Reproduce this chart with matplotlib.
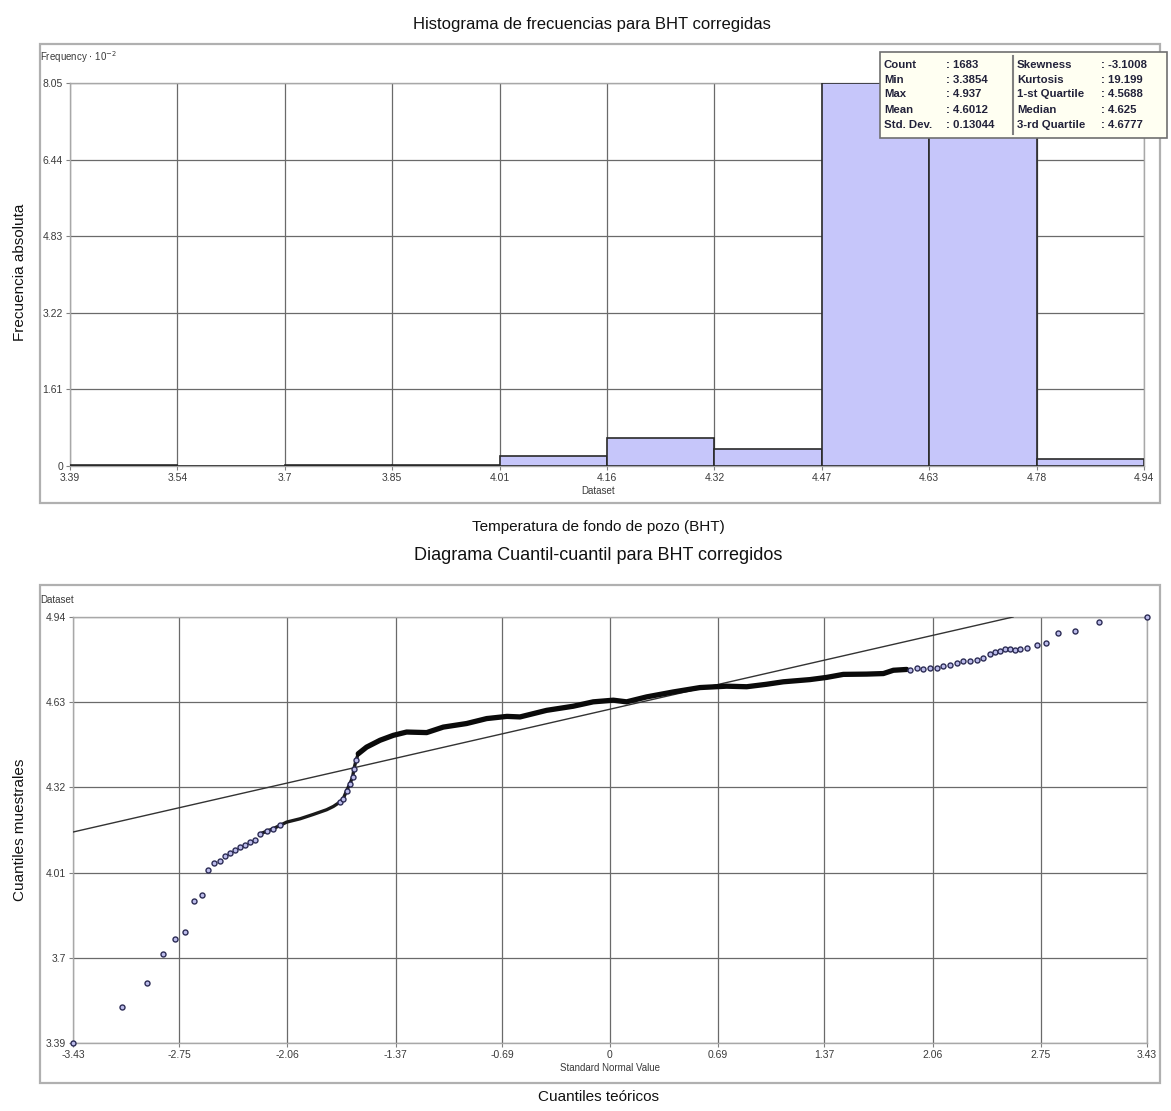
import numpy as np
import matplotlib.pyplot as plt
from matplotlib.patches import Rectangle
from matplotlib.lines import Line2D

plt.rcParams['font.family'] = ['Liberation Sans', 'DejaVu Sans']

# summary statistics shown in the box
stat_left = ['Count', 'Min', 'Max', 'Mean', 'Std. Dev.']
stat_left_val = ['1683', '3.3854', '4.937', '4.6012', '0.13044']
stat_right = ['Skewness', 'Kurtosis', '1-st Quartile', 'Median', '3-rd Quartile']
stat_right_val = ['-3.1008', '19.199', '4.5688', '4.625', '4.6777']
data_min = 3.3854
data_max = 4.937
data_mean = 4.6012
data_std = 0.13044

# histogram counts per bin (10 bins between min and max)
counts = [2, 0, 2, 3, 20, 58, 35, 805, 744, 14]
hist_ticks = ['3.39', '3.54', '3.7', '3.85', '4.01', '4.16', '4.32', '4.47', '4.63', '4.78', '4.94']
freq_ticks = [0, 1.61, 3.22, 4.83, 6.44, 8.05]

# QQ plot, points
tail_lo_x = [-3.430, -3.119, -2.959, -2.853, -2.778, -2.715, -2.657, -2.604, -2.566, -2.527,
             -2.491, -2.459, -2.427, -2.395, -2.363, -2.331, -2.299, -2.268, -2.236, -2.193,
             -2.151, -2.108, -1.725, -1.704, -1.682, -1.661, -1.644, -1.635, -1.622]
tail_lo_y = [3.3854, 3.517, 3.603, 3.709, 3.766, 3.791, 3.904, 3.925, 4.016, 4.041,
             4.047, 4.067, 4.076, 4.089, 4.098, 4.108, 4.117, 4.125, 4.147, 4.156,
             4.166, 4.181, 4.263, 4.275, 4.305, 4.330, 4.354, 4.385, 4.415]
semi_x = [-2.236, -2.151, -2.065, -1.980, -1.895, -1.810, -1.767, -1.725, -1.704, -1.682,
          -1.661, -1.644, -1.635, -1.622, -1.608]
semi_y = [4.147, 4.166, 4.190, 4.202, 4.218, 4.235, 4.247, 4.263, 4.275, 4.305,
          4.330, 4.354, 4.385, 4.415, 4.439]
dense_x = [-1.608, -1.555, -1.469, -1.384, -1.299, -1.171, -1.065, -0.916, -0.788, -0.658,
           -0.575, -0.405, -0.235, -0.107, 0.021, 0.106, 0.234, 0.404, 0.575, 0.745,
           0.873, 1.000, 1.107, 1.277, 1.384, 1.490, 1.639, 1.746, 1.810, 1.895]
dense_y = [4.439, 4.463, 4.488, 4.506, 4.518, 4.516, 4.536, 4.549, 4.567, 4.575,
           4.573, 4.597, 4.612, 4.628, 4.634, 4.628, 4.646, 4.664, 4.680, 4.685,
           4.683, 4.692, 4.701, 4.709, 4.717, 4.728, 4.729, 4.731, 4.743, 4.746]
tail_hi_x = [1.916, 1.959, 2.001, 2.044, 2.086, 2.129, 2.171, 2.214, 2.256, 2.299,
             2.342, 2.384, 2.427, 2.459, 2.491, 2.523, 2.555, 2.587, 2.618, 2.661,
             2.725, 2.785, 2.863, 2.970, 3.125, 3.430]
tail_hi_y = [4.743, 4.750, 4.746, 4.752, 4.753, 4.758, 4.762, 4.768, 4.776, 4.777,
             4.780, 4.786, 4.804, 4.810, 4.814, 4.819, 4.819, 4.817, 4.819, 4.823,
             4.834, 4.843, 4.877, 4.886, 4.920, 4.937]
qq_xticks = [-3.43, -2.75, -2.06, -1.37, -0.69, 0, 0.69, 1.37, 2.06, 2.75, 3.43]
qq_xlabels = ['-3.43', '-2.75', '-2.06', '-1.37', '-0.69', '0', '0.69', '1.37', '2.06', '2.75', '3.43']
qq_ylabels = ['3.39', '3.7', '4.01', '4.32', '4.63', '4.94']

W, H = 1171, 1111
fig = plt.figure(figsize=(W / 100, H / 100), dpi=100)


def fx(px):
    return px / W


def fy(py):
    return 1 - py / H


def style_axes(ax):
    ax.grid(True, color='#6a6a6a', lw=0.9)
    ax.set_axisbelow(True)
    for s in ax.spines.values():
        s.set_color('#a8a8a8')
        s.set_linewidth(1.0)
    ax.tick_params(labelsize=7.5, labelcolor='#3a3a3a', length=3, color='#808080', pad=2)


# outer frames
for top, bot in [(44, 503), (585, 1083)]:
    fig.patches.append(Rectangle((fx(40), fy(bot)), fx(1160) - fx(40), fy(top) - fy(bot),
                                 transform=fig.transFigure, fill=False,
                                 edgecolor='#b0b0b0', lw=1.6))

# ---- histogram ----
ax1 = fig.add_axes([fx(70), fy(466), fx(1144) - fx(70), fy(83) - fy(466)])
edges = np.linspace(data_min, data_max, len(counts) + 1)
ax1.bar(edges[:-1], np.array(counts) / 100, width=np.diff(edges), align='edge',
        color='#c6c6fa', edgecolor='#2a2a2a', lw=1.2, zorder=3)
ax1.set_xlim(data_min, data_max)
ax1.set_ylim(0, 8.05)
ax1.set_xticks(edges)
ax1.set_xticklabels(hist_ticks)
ax1.set_yticks(freq_ticks)
ax1.set_yticklabels(['0', '1.61', '3.22', '4.83', '6.44', '8.05'])
style_axes(ax1)

fig.text(fx(40), fy(57), r'Frequency $\cdot$ 10$^{-2}$', fontsize=7, color='#3a3a3a',
         ha='left', va='center')
fig.text(fx(598), fy(491), 'Dataset', fontsize=7, color='#3a3a3a', ha='center', va='center')

# statistics box
fig.patches.append(Rectangle((fx(880), fy(138)), fx(1167) - fx(880), fy(52) - fy(138),
                             transform=fig.transFigure, facecolor='#fffff2',
                             edgecolor='#707070', lw=1.2, zorder=5))
fig.lines.append(Line2D([fx(1013), fx(1013)], [fy(56), fy(134)], transform=fig.transFigure,
                        color='#808080', lw=1.5, zorder=6))
rows_y = [65, 80, 94, 110, 125]
for i, py in enumerate(rows_y):
    kw = dict(fontsize=8.2, fontweight='bold', color='#22223a', va='center', zorder=7)
    fig.text(fx(884), fy(py), stat_left[i], ha='left', **kw)
    fig.text(fx(946), fy(py), ': ' + stat_left_val[i], ha='left', **kw)
    fig.text(fx(1017), fy(py), stat_right[i], ha='left', **kw)
    fig.text(fx(1101), fy(py), ': ' + stat_right_val[i], ha='left', **kw)

# ---- QQ plot ----
ax2 = fig.add_axes([fx(73), fy(1043), fx(1147) - fx(73), fy(617) - fy(1043)])
ax2.set_xlim(-3.43, 3.43)
ax2.set_ylim(data_min, data_max)
ax2.set_xticks(qq_xticks)
ax2.set_xticklabels(qq_xlabels)
qq_yt = np.linspace(data_min, data_max, 6)
ax2.set_yticks(qq_yt)
ax2.set_yticklabels(qq_ylabels)
style_axes(ax2)

# reference line: mean + std * z
zline = np.array([-3.43, (data_max - data_mean) / data_std])
ax2.plot(zline, data_mean + data_std * zline, color='#333333', lw=1.0, zorder=3)

ax2.plot(semi_x, semi_y, color='#1a1a1a', lw=2.4, zorder=4, solid_capstyle='round')
ax2.plot(dense_x, dense_y, color='#0a0a0a', lw=3.8, zorder=4, solid_capstyle='round')
mk = dict(ls='none', marker='o', ms=3.6, mfc='#bcbcec', mec='#2c2c55', mew=1.0,
          zorder=5, clip_on=False)
ax2.plot(tail_lo_x, tail_lo_y, **mk)
ax2.plot(tail_hi_x, tail_hi_y, **mk)

fig.text(fx(40), fy(600), 'Dataset', fontsize=7, color='#3a3a3a', ha='left', va='center')
fig.text(fx(610), fy(1068), 'Standard Normal Value', fontsize=7, color='#3a3a3a',
         ha='center', va='center')

# titles and axis labels
fig.text(fx(592), fy(25), 'Histograma de frecuencias para BHT corregidas', fontsize=12,
         ha='center', va='center', color='#111111')
fig.text(fx(598), fy(527), 'Temperatura de fondo de pozo (BHT)', fontsize=11,
         ha='center', va='center', color='#111111')
fig.text(fx(598), fy(556), 'Diagrama Cuantil-cuantil para BHT corregidos', fontsize=13,
         ha='center', va='center', color='#111111')
fig.text(fx(598), fy(1097), 'Cuantiles teóricos', fontsize=11,
         ha='center', va='center', color='#111111')
fig.text(fx(20), fy(272), 'Frecuencia absoluta', fontsize=11, rotation=90,
         ha='center', va='center', color='#111111')
fig.text(fx(20), fy(830), 'Cuantiles muestrales', fontsize=11, rotation=90,
         ha='center', va='center', color='#111111')

fig.savefig('out.png', dpi=100)
